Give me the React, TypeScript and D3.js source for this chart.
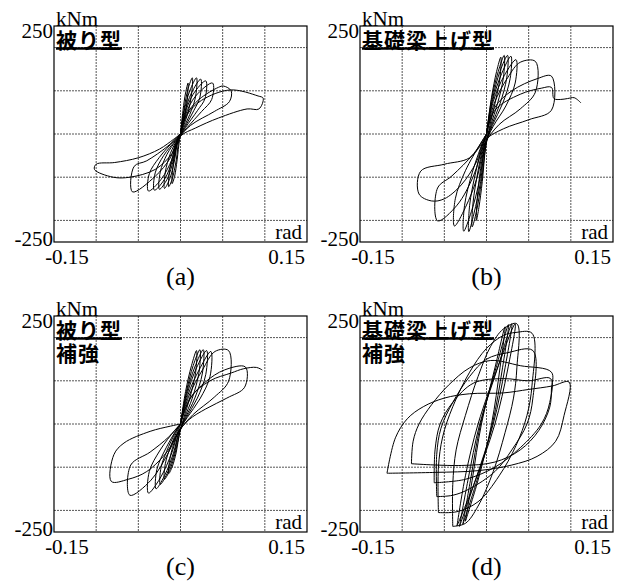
import React from 'react';
import * as d3 from 'd3';

const WIDTH = 624;
const HEIGHT = 581;
const PW = 253;
const PH = 216;

type Pt = [number, number];

const RAD_DOMAIN: [number, number] = [-0.15, 0.15];
const M_DOMAIN: [number, number] = [-250, 250];
const gridRad = [-0.1, -0.05, 0, 0.05, 0.1];
const gridM = [-200, -100, 0, 100, 200];
const xTickLabels = ['-0.15', '0.15'];
const yTickLabels = ['250', '-250'];
const panelLabels = ['(a)', '(b)', '(c)', '(d)'];
const panelTitles = [['被り型'], ['基礎梁上げ型'], ['被り型', '補強'], ['基礎梁上げ型', '補強']];

// (a) 被り型
const loopsA: Pt[][] = [
  [[0, 0], [0.003, 55], [0.006, 95], [0.009, 118], [0.008, 80], [0.005, 40], [0.002, 12], [-0.001, -12], [-0.004, -60], [-0.007, -98], [-0.01, -115], [-0.009, -78], [-0.006, -38], [-0.002, -10], [0, 0]],
  [[0, 0], [0.004, 55], [0.009, 105], [0.014, 130], [0.013, 90], [0.009, 50], [0.003, 15], [-0.002, -15], [-0.005, -60], [-0.01, -105], [-0.014, -122], [-0.013, -85], [-0.008, -42], [-0.003, -12], [0, 0]],
  [[0, 0], [0.004, 50], [0.011, 100], [0.019, 130], [0.018, 88], [0.013, 55], [0.004, 15], [-0.003, -15], [-0.007, -60], [-0.013, -105], [-0.019, -126], [-0.018, -88], [-0.012, -45], [-0.004, -13], [0, 0]],
  [[0, 0], [0.005, 50], [0.013, 95], [0.024, 127], [0.023, 85], [0.016, 55], [0.005, 15], [-0.003, -15], [-0.008, -58], [-0.016, -105], [-0.025, -128], [-0.024, -88], [-0.016, -47], [-0.005, -14], [0, 0]],
  [[0, 0], [0.005, 45], [0.015, 92], [0.03, 123], [0.029, 82], [0.02, 54], [0.006, 15], [-0.003, -15], [-0.009, -58], [-0.019, -105], [-0.031, -130], [-0.03, -90], [-0.02, -50], [-0.006, -15], [0, 0]],
  [[0, 0], [0.006, 45], [0.018, 88], [0.038, 118], [0.037, 80], [0.025, 52], [0.008, 15], [-0.004, -15], [-0.01, -58], [-0.023, -105], [-0.038, -132], [-0.037, -92], [-0.025, -54], [-0.008, -16], [0, 0]],
  [[0, 0], [0.007, 45], [0.022, 80], [0.045, 108], [0.051, 111], [0.06, 100], [0.058, 75], [0.04, 52], [0.012, 20], [-0.004, -15], [-0.012, -55], [-0.03, -98], [-0.057, -134], [-0.055, -75], [-0.04, -62], [-0.015, -28], [0, 0]],
  [[0, 0], [0.008, 45], [0.025, 78], [0.059, 102], [0.092, 88], [0.098, 83], [0.093, 58], [0.079, 58], [0.045, 37], [0.018, 14], [0, -5], [-0.01, -45], [-0.03, -82], [-0.06, -100], [-0.08, -100], [-0.102, -82], [-0.1, -70], [-0.078, -66], [-0.05, -55], [-0.025, -35], [-0.008, -12], [0, 0]],
];

// (b) 基礎梁上げ型
const loopsB: Pt[][] = [
  [[0, 0], [0.006, 85], [0.012, 145], [0.017, 178], [0.016, 130], [0.01, 70], [0.004, 20], [-0.001, -30], [-0.005, -110], [-0.009, -170], [-0.012, -200], [-0.011, -150], [-0.007, -80], [-0.002, -20], [0, 0]],
  [[0, 0], [0.006, 80], [0.014, 145], [0.021, 182], [0.02, 130], [0.013, 70], [0.005, 20], [-0.001, -30], [-0.006, -110], [-0.012, -180], [-0.017, -215], [-0.016, -160], [-0.01, -85], [-0.003, -20], [0, 0]],
  [[0, 0], [0.007, 80], [0.016, 145], [0.025, 182], [0.024, 130], [0.016, 70], [0.006, 20], [-0.002, -30], [-0.007, -110], [-0.015, -185], [-0.021, -226], [-0.02, -165], [-0.013, -90], [-0.004, -22], [0, 0]],
  [[0, 0], [0.007, 75], [0.018, 140], [0.029, 180], [0.028, 128], [0.019, 70], [0.007, 20], [-0.002, -30], [-0.008, -105], [-0.018, -180], [-0.027, -225], [-0.026, -165], [-0.017, -90], [-0.005, -22], [0, 0]],
  [[0, 0], [0.008, 75], [0.021, 135], [0.035, 172], [0.034, 118], [0.023, 65], [0.008, 18], [-0.003, -30], [-0.011, -100], [-0.025, -170], [-0.038, -213], [-0.037, -150], [-0.025, -85], [-0.007, -22], [0, 0]],
  [[0, 0], [0.009, 70], [0.025, 130], [0.04, 166], [0.058, 168], [0.058, 97], [0.04, 58], [0.015, 22], [-0.003, -25], [-0.015, -95], [-0.035, -165], [-0.058, -201], [-0.058, -125], [-0.041, -97], [-0.015, -45], [0, 0]],
  [[0, 0], [0.01, 62], [0.03, 100], [0.06, 128], [0.077, 134], [0.077, 55], [0.05, 33], [0.02, 12], [-0.002, -15], [-0.012, -65], [-0.03, -118], [-0.05, -150], [-0.065, -155], [-0.08, -139], [-0.078, -86], [-0.05, -70], [-0.02, -55], [0, -5]],
  [[0, -5], [0.01, 55], [0.04, 92], [0.065, 106], [0.077, 108], [0.08, 82], [0.088, 80], [0.096, 82], [0.104, 84], [0.112, 72]],
];

// (c) 被り型 補強
const loopsC: Pt[][] = [
  [[0, 0], [0.006, 75], [0.013, 135], [0.019, 170], [0.018, 120], [0.011, 60], [0.004, 15], [-0.001, -20], [-0.005, -65], [-0.01, -100], [-0.014, -115], [-0.013, -85], [-0.008, -45], [-0.002, -12], [0, 0]],
  [[0, 0], [0.007, 75], [0.015, 135], [0.023, 172], [0.022, 120], [0.014, 60], [0.005, 15], [-0.001, -20], [-0.006, -65], [-0.013, -108], [-0.019, -128], [-0.018, -92], [-0.011, -48], [-0.003, -12], [0, 0]],
  [[0, 0], [0.007, 70], [0.017, 132], [0.027, 172], [0.026, 118], [0.017, 60], [0.006, 15], [-0.002, -20], [-0.007, -65], [-0.016, -115], [-0.024, -140], [-0.023, -100], [-0.014, -52], [-0.004, -12], [0, 0]],
  [[0, 0], [0.008, 70], [0.019, 130], [0.031, 170], [0.03, 115], [0.02, 60], [0.007, 15], [-0.002, -20], [-0.008, -65], [-0.019, -120], [-0.029, -150], [-0.028, -105], [-0.017, -55], [-0.005, -14], [0, 0]],
  [[0, 0], [0.009, 68], [0.022, 125], [0.036, 168], [0.035, 110], [0.023, 58], [0.008, 15], [-0.003, -20], [-0.01, -65], [-0.024, -125], [-0.038, -160], [-0.037, -110], [-0.024, -60], [-0.007, -15], [0, 0]],
  [[0, 0], [0.01, 65], [0.026, 125], [0.041, 168], [0.057, 170], [0.057, 99], [0.04, 62], [0.015, 22], [-0.003, -20], [-0.014, -65], [-0.035, -130], [-0.06, -165], [-0.059, -95], [-0.036, -65], [-0.014, -30], [0, 0]],
  [[0, 0], [0.012, 60], [0.03, 98], [0.052, 125], [0.077, 132], [0.076, 85], [0.055, 60], [0.03, 35], [0.01, 10], [-0.003, -20], [-0.015, -62], [-0.04, -110], [-0.062, -128], [-0.082, -133], [-0.079, -71], [-0.067, -44], [-0.036, -17], [-0.012, -5], [0, 0]],
  [[0, 0], [0.012, 62], [0.035, 100], [0.06, 118], [0.075, 128], [0.09, 131], [0.097, 125]],
];

// (d) 基礎梁上げ型 補強
const loopsD: Pt[][] = [
  [[-0.025, -225], [-0.017, -130], [-0.006, 0], [0.01, 130], [0.022, 225], [0.016, 130], [0.006, 0], [-0.01, -130], [-0.025, -225]],
  [[-0.028, -232], [-0.019, -130], [-0.007, 0], [0.012, 135], [0.026, 230], [0.019, 130], [0.007, 0], [-0.012, -135], [-0.028, -232]],
  [[-0.032, -237], [-0.022, -130], [-0.008, 0], [0.014, 135], [0.03, 232], [0.022, 130], [0.008, 0], [-0.014, -135], [-0.032, -237]],
  [[-0.035, -236], [-0.025, -120], [-0.01, 0], [0.015, 140], [0.034, 232], [0.025, 125], [0.01, 0], [-0.015, -140], [-0.035, -236]],
  [[-0.04, -237], [-0.04, -140], [-0.036, -60], [-0.025, 20], [-0.01, 110], [0.005, 180], [0.02, 220], [0.036, 232], [0.036, 130], [0.032, 60], [0.022, -20], [0.008, -110], [-0.01, -190], [-0.025, -230], [-0.04, -237]],
  [[-0.057, -205], [-0.057, -100], [-0.052, -30], [-0.04, 40], [-0.02, 120], [0, 175], [0.02, 205], [0.035, 212], [0.054, 210], [0.054, 90], [0.048, 20], [0.035, -50], [0.015, -120], [-0.01, -180], [-0.035, -203], [-0.057, -205]],
  [[-0.059, -168], [-0.059, -70], [-0.054, -10], [-0.04, 50], [-0.02, 110], [0, 150], [0.025, 165], [0.055, 170], [0.055, 60], [0.048, 0], [0.03, -60], [0.01, -110], [-0.02, -150], [-0.04, -165], [-0.059, -168]],
  [[-0.062, -136], [-0.061, -60], [-0.055, 0], [-0.04, 50], [-0.015, 95], [0.02, 105], [0.05, 100], [0.076, 105], [0.075, 50], [0.065, 0], [0.04, -55], [0.01, -100], [-0.025, -128], [-0.062, -136]],
  [[-0.089, -92], [-0.087, -40], [-0.08, 0], [-0.065, 45], [-0.045, 90], [-0.02, 130], [0.005, 147], [0.04, 135], [0.077, 120], [0.077, 81], [0.075, 39], [0.062, -15], [0.04, -60], [0.01, -88], [-0.03, -96], [-0.089, -92]],
  [[-0.118, -114], [-0.108, -32], [-0.094, 12], [-0.075, 40], [-0.05, 60], [-0.02, 70], [0.02, 72], [0.05, 80], [0.078, 88], [0.098, 97], [0.092, 20], [0.082, -40], [0.06, -75], [0.03, -95], [-0.01, -108], [-0.06, -112], [-0.118, -114]],
];

const panelLoops = [loopsA, loopsB, loopsC, loopsD];
const panelPos: Pt[] = [[54, 26], [360, 26], [54, 316], [360, 316]];

const SERIF = '"Liberation Serif", "Times New Roman", serif';
const GOTHIC = '"Noto Sans CJK JP", "Noto Sans", sans-serif';

interface PanelProps {
  idx: number;
  left: number;
  top: number;
  loops: Pt[][];
  titles: string[];
  label: string;
}

const Panel = ({ idx, left, top, loops, titles, label }: PanelProps) => {
  const x = d3.scaleLinear().domain(RAD_DOMAIN).range([0, PW]);
  const y = d3.scaleLinear().domain(M_DOMAIN).range([PH, 0]);
  const line = d3
    .line<Pt>()
    .x((d) => x(d[0]))
    .y((d) => y(d[1]))
    .curve(d3.curveCatmullRom.alpha(0.5));

  const clipId = `clip-${idx}`;
  const titleSize = 21;
  const titleSpacing = 1;

  return (
    <g transform={`translate(${left}, ${top})`}>
      <defs>
        <clipPath id={clipId}>
          <rect x={0} y={0} width={PW} height={PH} />
        </clipPath>
      </defs>

      {gridRad.map((v) => (
        <line key={`gx${v}`} x1={x(v)} x2={x(v)} y1={0} y2={PH} stroke="#555" strokeDasharray="2 1" />
      ))}
      {gridM.map((v) => (
        <line key={`gy${v}`} x1={0} x2={PW} y1={y(v)} y2={y(v)} stroke="#555" strokeDasharray="2 1" />
      ))}

      <g clipPath={`url(#${clipId})`}>
        {loops.map((pts, i) => (
          <path key={i} d={line(pts) as string} fill="none" stroke="#000" strokeWidth={1} />
        ))}
      </g>

      <rect x={0} y={0} width={PW} height={PH} fill="none" stroke="#000" strokeWidth={1.2} />

      {titles.map((t, i) => (
        <text
          key={t}
          x={2}
          y={22 + i * 23}
          fontFamily={GOTHIC}
          fontWeight={700}
          fontSize={titleSize}
          letterSpacing={titleSpacing}
          fill="#000"
        >
          {t}
        </text>
      ))}
      <line
        x1={2}
        x2={2 + titles[0].length * (titleSize + titleSpacing)}
        y1={y(200) + 1}
        y2={y(200) + 1}
        stroke="#000"
        strokeWidth={2.5}
      />

      <g fontFamily={SERIF} fontSize={21} fill="#000">
        <text x={2} y={0}>kNm</text>
        <text x={-1} y={12} textAnchor="end">{yTickLabels[0]}</text>
        <text x={-1} y={PH + 4} textAnchor="end">{yTickLabels[1]}</text>
        <text x={x(RAD_DOMAIN[0]) + 13} y={PH + 22} textAnchor="middle">{xTickLabels[0]}</text>
        <text x={x(RAD_DOMAIN[1]) - 2} y={PH + 22} textAnchor="end">{xTickLabels[1]}</text>
        <text x={PW - 5} y={PH - 3} textAnchor="end">rad</text>
        <text x={x(0)} y={PH + 43} textAnchor="middle" fontSize={26}>{label}</text>
      </g>
    </g>
  );
};

const App = () => (
  <svg
    width={WIDTH}
    height={HEIGHT}
    viewBox={`0 0 ${WIDTH} ${HEIGHT}`}
    style={{ position: 'absolute', left: 0, top: 0, background: '#fff' }}
  >
    {panelLoops.map((loops, i) => (
      <Panel
        key={i}
        idx={i}
        left={panelPos[i][0]}
        top={panelPos[i][1]}
        loops={loops}
        titles={panelTitles[i]}
        label={panelLabels[i]}
      />
    ))}
  </svg>
);

export default App;
